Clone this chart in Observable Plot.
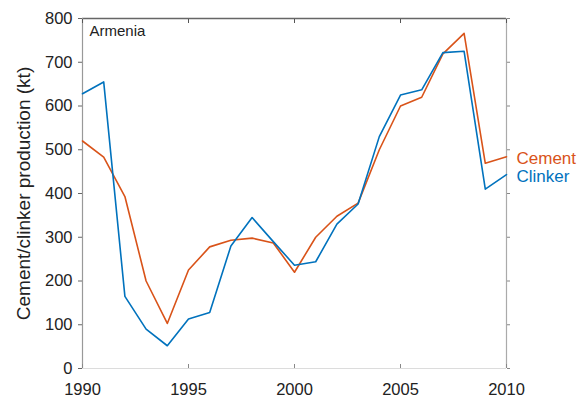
<!DOCTYPE html>
<html>
<head>
<meta charset="utf-8">
<script src="https://cdn.jsdelivr.net/npm/d3@7"></script>
<script src="https://cdn.jsdelivr.net/npm/@observablehq/plot@0.6"></script>
<style>
  html, body { margin: 0; padding: 0; background: #fff; }
  #chart { width: 578px; height: 402px; overflow: hidden; }
</style>
</head>
<body>
<div id="chart"></div>
<script>
// Annual production for Armenia, kilotonnes
const years = [1990, 1991, 1992, 1993, 1994, 1995, 1996, 1997, 1998, 1999, 2000,
               2001, 2002, 2003, 2004, 2005, 2006, 2007, 2008, 2009, 2010];
const cement = [520, 483, 393, 200, 103, 225, 278, 293, 298, 287, 220,
                300, 348, 378, 500, 600, 620, 719, 766, 469, 484];
const clinker = [628, 655, 165, 90, 52, 113, 128, 280, 345, 290, 236,
                 244, 330, 376, 530, 625, 637, 722, 725, 410, 443];
const seriesNames = ["Cement", "Clinker"];
const seriesColors = ["#d95319", "#0072bd"];
const country = "Armenia";
const xTicks = [1990, 1995, 2000, 2005, 2010];
const yTicks = [0, 100, 200, 300, 400, 500, 600, 700, 800];

const rows = [];
years.forEach((yr, i) => {
  rows.push({year: yr, value: cement[i], series: seriesNames[0]});
  rows.push({year: yr, value: clinker[i], series: seriesNames[1]});
});
const last = rows.filter(d => d.year === years[years.length - 1]);

const font = "'Liberation Sans', Arial, Helvetica, sans-serif";

const chart = Plot.plot({
  width: 578,
  height: 402,
  marginLeft: 82,
  marginRight: 72,
  marginTop: 18,
  marginBottom: 34,
  style: {fontFamily: font, background: "#fff", color: "#222", overflow: "visible"},
  x: {type: "linear", domain: [1990, 2010]},
  y: {type: "linear", domain: [0, 800]},
  color: {domain: seriesNames, range: seriesColors},
  marks: [
    // box around the plotting area
    Plot.ruleY([0], {stroke: "#dcdcdc", strokeWidth: 1.2}),
    Plot.ruleY([800], {stroke: "#666", strokeWidth: 1.4}),
    Plot.ruleX([1990], {stroke: "#999", strokeWidth: 1.2}),
    Plot.ruleX([2010], {stroke: "#aaa", strokeWidth: 1.2}),
    // short inward ticks on the top edge
    Plot.axisX({anchor: "top", ticks: xTicks, tickSize: -4, tickFormat: () => "",
                stroke: "#555", label: null}),
    Plot.axisX({ticks: xTicks, tickFormat: d => String(d), tickSize: -4, tickPadding: 19,
                fontSize: 16.5, stroke: "#888", label: null}),
    Plot.axisY({ticks: yTicks, tickSize: 4, tickPadding: 6, fontSize: 16.5, stroke: "#666",
                label: "Cement/clinker production (kt)", labelAnchor: "center",
                labelArrow: "none", labelOffset: 66}),
    Plot.axisY({anchor: "right", ticks: yTicks, tickSize: 3, tickFormat: () => "",
                stroke: "#888", label: null}),
    Plot.line(rows, {x: "year", y: "value", z: "series", stroke: "series", strokeWidth: 1.6}),
    Plot.text(last, {x: "year", y: "value", text: "series", fill: "series",
                     textAnchor: "start", dx: 10, dy: 2, fontSize: 17}),
    Plot.text([country], {frameAnchor: "top-left", dx: 7, dy: 7, fontSize: 15, fill: "#222"})
  ]
});

// larger font for the axis title
chart.querySelectorAll("g[aria-label='y-axis label'] text").forEach(t => t.setAttribute("font-size", 19));
document.getElementById("chart").appendChild(chart);
</script>
</body>
</html>
